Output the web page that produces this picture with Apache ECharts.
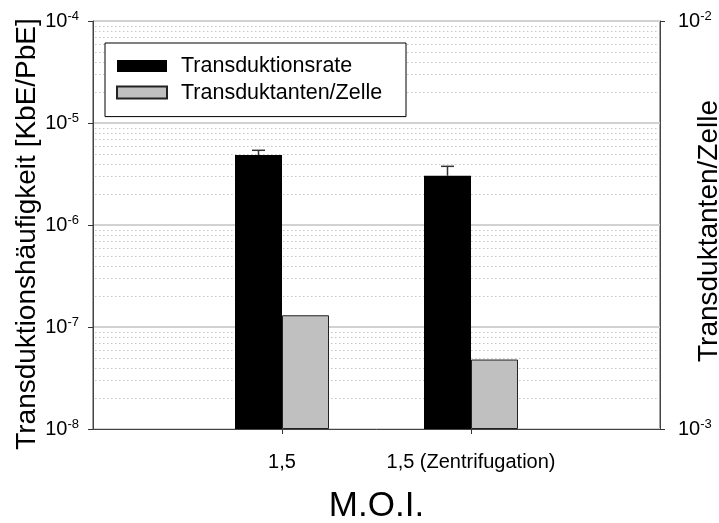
<!DOCTYPE html>
<html>
<head>
<meta charset="utf-8">
<title>Transduktionsrate</title>
<script src="https://cdn.jsdelivr.net/npm/echarts@6/dist/echarts.min.js"></script>
<style>
  html, body { margin: 0; padding: 0; background: #fff; }
  #chart { width: 719px; height: 523px; }
</style>
</head>
<body>
<div id="chart"></div>
<script>
// M.O.I. groups on the x axis
const MOI_LABELS = ['1,5', '1,5 (Zentrifugation)'];

// Transduktionsrate [KbE/PbE] (left axis) and upper end of its error bar
const RATE = [4.85e-6, 3.04e-6];
const RATE_ERR_HIGH = [5.4e-6, 3.76e-6];

// Transduktanten pro Zelle (right axis)
const PER_CELL = [1.9e-3, 1.48e-3];

// Decade exponents shown as tick labels
const LEFT_TICK_EXP = [-8, -7, -6, -5, -4];
const RIGHT_TICK_EXP = [-3, -2];

// Intermediate (2..9 x 10^n) grid values on the left axis
const MINOR_MULTIPLIERS = [2, 3, 4, 5, 6, 7, 8, 9];

const FONT = "'Liberation Sans', Arial, Helvetica, sans-serif";
const BAR_W = 47;

const leftMin = Math.pow(10, LEFT_TICK_EXP[0]);
const leftMax = Math.pow(10, LEFT_TICK_EXP[LEFT_TICK_EXP.length - 1]);
const rightMin = Math.pow(10, RIGHT_TICK_EXP[0]);
const rightMax = Math.pow(10, RIGHT_TICK_EXP[RIGHT_TICK_EXP.length - 1]);

// empty padding categories so the two groups sit at 1/3 and 2/3 of the width
const xCats = [''].concat(MOI_LABELS, ['']);
const pad = (arr) => ['-'].concat(arr, ['-']);

const minorValues = [];
for (let e = LEFT_TICK_EXP[0]; e < LEFT_TICK_EXP[LEFT_TICK_EXP.length - 1]; e++) {
  MINOR_MULTIPLIERS.forEach(m => minorValues.push([1, m * Math.pow(10, e)]));
}

const errData = RATE.map((v, i) => [i + 1, RATE_ERR_HIGH[i], v]);

function powLabel(v) {
  const e = Math.round(Math.log10(v));
  return '{b|10}{s|' + e + '}';
}
const richPow = {
  b: { fontSize: 20, fontFamily: FONT, color: '#000', lineHeight: 22 },
  s: { fontSize: 13, fontFamily: FONT, color: '#000', lineHeight: 13, verticalAlign: 'top', padding: [0, 0, 9, 0] }
};

const chart = echarts.init(document.getElementById('chart'), null, { renderer: 'canvas' });

chart.setOption({
  animation: false,
  backgroundColor: '#fff',
  textStyle: { fontFamily: FONT, color: '#000' },
  grid: {
    left: 93, right: 59, top: 21, bottom: 94,
    containLabel: false,
    outerBoundsMode: 'none',
    show: true, borderColor: '#444', borderWidth: 1, backgroundColor: 'transparent'
  },
  legend: {
    data: ['Transduktionsrate', 'Transduktanten/Zelle'],
    orient: 'vertical',
    left: 105, top: 43,
    padding: [12, 18, 13, 11],
    icon: 'rect',
    itemWidth: 50, itemHeight: 12, itemGap: 4.6,
    backgroundColor: '#fff', borderColor: '#000', borderWidth: 1, borderRadius: 0,
    selectedMode: false,
    z: 10,
    textStyle: { fontSize: 21.5, fontFamily: FONT, color: '#000', lineHeight: 22, padding: [0, 0, 0, 9], width: 207 }
  },
  xAxis: {
    type: 'category',
    data: xCats,
    boundaryGap: false,
    name: 'M.O.I.',
    nameLocation: 'middle',
    nameGap: 60,
    nameMoveOverlap: false,
    nameTextStyle: { fontSize: 35, fontFamily: FONT, color: '#000', lineHeight: 35 },
    axisLine: { show: true, lineStyle: { color: '#444', width: 1 } },
    axisTick: { show: true, length: 5, inside: false, lineStyle: { color: '#333' },
                interval: (i) => i > 0 && i < xCats.length - 1 },
    axisLabel: { fontSize: 20, fontFamily: FONT, color: '#000', margin: 23, lineHeight: 20, interval: 0 },
    splitLine: { show: false }
  },
  yAxis: [
    {
      type: 'log', logBase: 10,
      min: leftMin, max: leftMax, startValue: leftMin,
      position: 'left',
      name: 'Transduktionshäufigkeit [KbE/PbE]',
      nameLocation: 'middle', nameRotate: 90, nameGap: 52,
      nameMoveOverlap: false,
      nameTextStyle: { fontSize: 28, fontFamily: FONT, color: '#000', lineHeight: 28, padding: [0, 18, 0, 0] },
      axisLine: { show: true, lineStyle: { color: '#444', width: 1 } },
      axisTick: { show: true, length: 5, lineStyle: { color: '#333' } },
      minorTick: { show: false },
      axisLabel: { margin: 14, formatter: powLabel, rich: richPow },
      splitLine: { show: true, lineStyle: { color: '#d2d2d2', width: 2 } }
    },
    {
      type: 'log', logBase: 10,
      min: rightMin, max: rightMax, startValue: rightMin,
      position: 'right',
      name: 'Transduktanten/Zelle',
      nameLocation: 'middle', nameRotate: 90, nameGap: 35,
      nameMoveOverlap: false,
      nameTextStyle: { fontSize: 28, fontFamily: FONT, color: '#000', lineHeight: 28, padding: [0, 12, 0, 0] },
      axisLine: { show: true, lineStyle: { color: '#444', width: 1 } },
      axisTick: { show: true, length: 5, lineStyle: { color: '#333' } },
      axisLabel: { margin: 18, formatter: powLabel, rich: richPow },
      splitLine: { show: false }
    }
  ],
  series: [
    {
      // dotted intermediate grid lines at 2..9 x 10^n
      name: 'Raster',
      type: 'custom',
      xAxisIndex: 0, yAxisIndex: 0,
      data: minorValues,
      encode: { x: 0, y: 1 },
      z: 1,
      silent: true,
      clip: true,
      renderItem: function (params, api) {
        const cs = params.coordSys;
        const y = Math.round(api.coord([api.value(0), api.value(1)])[1]) + 0.5;
        return {
          type: 'line',
          shape: { x1: cs.x + 2, y1: y, x2: cs.x + cs.width - 2, y2: y },
          style: { stroke: '#c6c6c6', lineWidth: 1, lineDash: [1.5, 2.5] }
        };
      }
    },
    {
      name: 'Transduktionsrate',
      type: 'bar',
      xAxisIndex: 0, yAxisIndex: 0,
      data: pad(RATE),
      barWidth: BAR_W, barGap: '0%',
      itemStyle: { color: '#000', borderColor: '#000', borderWidth: 0 },
      z: 2
    },
    {
      name: 'Transduktanten/Zelle',
      type: 'bar',
      xAxisIndex: 0, yAxisIndex: 1,
      data: pad(PER_CELL),
      barWidth: BAR_W, barGap: '0%',
      itemStyle: { color: '#c0c0c0', borderColor: '#222', borderWidth: 1 },
      z: 2
    },
    {
      name: 'Fehler',
      type: 'custom',
      xAxisIndex: 0, yAxisIndex: 0,
      data: errData,
      encode: { x: 0, y: 1 },
      z: 3,
      silent: true,
      renderItem: function (params, api) {
        const top = api.coord([api.value(0), api.value(1)]);
        const base = api.coord([api.value(0), api.value(2)]);
        const x = top[0] - BAR_W / 2;
        const half = 6.5;
        const style = { stroke: '#333', lineWidth: 1.5 };
        return {
          type: 'group',
          children: [
            { type: 'line', shape: { x1: x, y1: base[1], x2: x, y2: top[1] }, style: style },
            { type: 'line', shape: { x1: x - half, y1: top[1], x2: x + half, y2: top[1] }, style: style }
          ]
        };
      }
    }
  ]
});
</script>
</body>
</html>
